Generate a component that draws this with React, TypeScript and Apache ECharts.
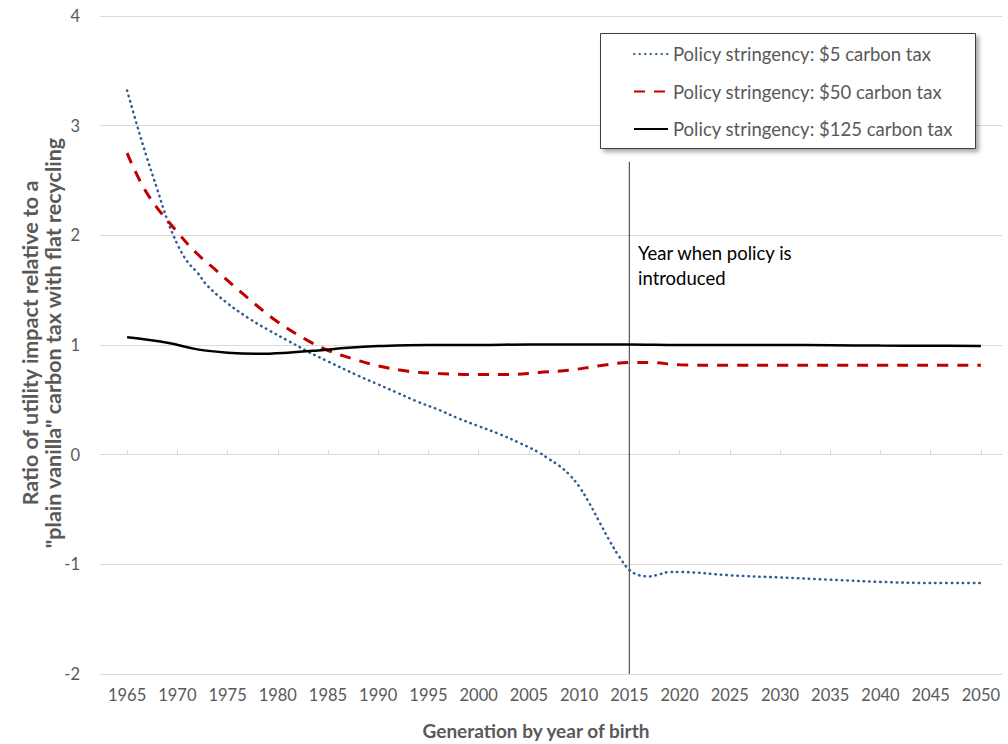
import React, { useEffect, useRef } from "react";
import * as echarts from "echarts";

const tickYears = [1965, 1970, 1975, 1980, 1985, 1990, 1995, 2000, 2005, 2010, 2015, 2020, 2025, 2030, 2035, 2040, 2045, 2050];

const tax5Years = [1965, 1966, 1967, 1968, 1969, 1970, 1971, 1972, 1973, 1975, 1977, 1979, 1981, 1983, 1985, 1988, 1990, 1992, 1994, 1996, 1998, 2000, 2002, 2004, 2006, 2007, 2008, 2009, 2010, 2011, 2012, 2013, 2014, 2015, 2016, 2017, 2018, 2019, 2020, 2025, 2030, 2035, 2040, 2045, 2050];
const tax5Values = [3.32, 3.0, 2.7, 2.42, 2.14, 1.92, 1.76, 1.66, 1.54, 1.38, 1.25, 1.14, 1.04, 0.94, 0.85, 0.72, 0.64, 0.56, 0.48, 0.41, 0.33, 0.26, 0.19, 0.11, 0.02, -0.04, -0.1, -0.18, -0.29, -0.44, -0.61, -0.78, -0.93, -1.05, -1.1, -1.11, -1.09, -1.07, -1.07, -1.1, -1.12, -1.14, -1.16, -1.17, -1.17];

const tax50Years = [1965, 1967, 1970, 1972, 1974, 1977, 1980, 1983, 1985, 1988, 1990, 1993, 1996, 2000, 2003, 2006, 2009, 2012, 2015, 2017, 2020, 2025, 2030, 2035, 2040, 2045, 2050];
const tax50Values = [2.75, 2.38, 2.03, 1.83, 1.67, 1.43, 1.21, 1.04, 0.95, 0.86, 0.81, 0.76, 0.74, 0.73, 0.73, 0.75, 0.77, 0.81, 0.84, 0.84, 0.82, 0.815, 0.815, 0.815, 0.815, 0.815, 0.815];

const tax125Years = [1965, 1969, 1972, 1975, 1978, 1981, 1984, 1987, 1990, 1995, 2000, 2005, 2010, 2015, 2020, 2025, 2030, 2035, 2040, 2045, 2050];
const tax125Values = [1.07, 1.02, 0.96, 0.93, 0.92, 0.93, 0.95, 0.975, 0.99, 1.0, 1.0, 1.005, 1.005, 1.005, 1.0, 1.0, 1.0, 0.998, 0.995, 0.993, 0.99];

const policyYear = [2015, 2015];
const policyLineValues = [-2, 2.67];

const seriesNames = [
  "Policy stringency: $5 carbon tax",
  "Policy stringency: $50 carbon tax",
  "Policy stringency: $125 carbon tax",
];

const zip = (xs: number[], ys: number[]) => xs.map((x, i) => [x, ys[i]]);

const FONT = "Lato, 'Open Sans', sans-serif";
const GREY = "#595959";

export default function App() {
  const ref = useRef<HTMLDivElement>(null);
  useEffect(() => {
    document.body.style.margin = "0";
    const chart = echarts.init(ref.current!, null, { renderer: "svg" });
    chart.setOption({
      animation: false,
      backgroundColor: "#fff",
      textStyle: { fontFamily: FONT },
      grid: { left: 100, right: 6, top: 16, bottom: 70, containLabel: false },
      xAxis: [
        {
          type: "value",
          min: 1962.3,
          max: 2052.1,
          position: "bottom",
          axisLine: { show: false, onZero: false },
          axisTick: { show: false },
          splitLine: { show: false },
          axisLabel: {
            customValues: tickYears,
            formatter: (v: number) => String(v),
            color: GREY,
            fontSize: 16.5,
            fontFamily: FONT,
            margin: 12,
          },
        },
        {
          type: "value",
          min: 1962.3,
          max: 2052.1,
          position: "bottom",
          axisLine: { show: true, onZero: true, onZeroAxisIndex: 0, lineStyle: { color: "#D9D9D9", width: 1 } },
          axisTick: { show: true, inside: true, length: 5, customValues: tickYears, lineStyle: { color: "#D9D9D9" } },
          axisLabel: { show: false },
          splitLine: { show: false },
        },
      ],
      yAxis: {
        type: "value",
        min: -2,
        max: 4,
        interval: 1,
        axisLine: { show: false },
        axisTick: { show: false },
        axisLabel: { color: GREY, fontSize: 16.5, fontFamily: FONT, margin: 20 },
        splitLine: { lineStyle: { color: "#D9D9D9", width: 1 } },
      },
      legend: {
        data: seriesNames,
        orient: "vertical",
        left: 628,
        top: 38,
        itemWidth: 34,
        itemHeight: 14,
        itemGap: 15.5,
        itemStyle: { opacity: 0, color: "transparent", borderWidth: 0 },
        textStyle: { color: GREY, fontSize: 18.5, fontFamily: FONT, lineHeight: 22 },
        z: 20,
      },
      graphic: [
        {
          type: "rect",
          z: 10,
          shape: { x: 600.5, y: 33.5, width: 375, height: 115 },
          style: {
            fill: "#fff",
            stroke: "#404040",
            lineWidth: 1,
            shadowBlur: 4,
            shadowOffsetX: 3,
            shadowOffsetY: 3,
            shadowColor: "rgba(0,0,0,0.35)",
          },
        },
        {
          type: "text",
          left: 638,
          top: 240,
          z: 10,
          style: {
            text: "Year when policy is\nintroduced",
            font: `18.5px ${FONT}`,
            fill: "#000",
            lineHeight: 25,
          },
        },
        {
          type: "text",
          x: 536,
          y: 730,
          style: {
            text: "Generation by year of birth",
            font: `bold 19px ${FONT}`,
            fill: GREY,
            textAlign: "center",
            textVerticalAlign: "middle",
          },
        },
        {
          type: "text",
          x: 41,
          y: 343,
          rotation: Math.PI / 2,
          style: {
            text: 'Ratio of utility impact relative to a\n"plain vanilla" carbon tax with flat recycling',
            font: `bold 21.5px ${FONT}`,
            fill: GREY,
            textAlign: "center",
            textVerticalAlign: "middle",
            lineHeight: 23,
          },
        },
      ],
      series: [
        {
          name: "policy-year",
          type: "line",
          data: zip(policyYear, policyLineValues),
          symbol: "none",
          silent: true,
          lineStyle: { color: "#555", width: 1.2 },
          z: 1,
        },
        {
          name: seriesNames[0],
          type: "line",
          data: zip(tax5Years, tax5Values),
          smooth: 0.4,
          symbol: "none",
          itemStyle: { color: "#2E5C93" },
          lineStyle: { color: "#2E5C93", width: 2.5, type: [0.5, 5], cap: "round" },
        },
        {
          name: seriesNames[1],
          type: "line",
          data: zip(tax50Years, tax50Values),
          smooth: 0.4,
          symbol: "none",
          itemStyle: { color: "#C00000" },
          lineStyle: { color: "#C00000", width: 3, type: [11, 9] },
        },
        {
          name: seriesNames[2],
          type: "line",
          data: zip(tax125Years, tax125Values),
          smooth: 0.4,
          symbol: "none",
          itemStyle: { color: "#000" },
          lineStyle: { color: "#000", width: 2.5 },
        },
      ],
    });
    return () => chart.dispose();
  }, []);
  return <div ref={ref} style={{ width: 1008, height: 744 }} />;
}
